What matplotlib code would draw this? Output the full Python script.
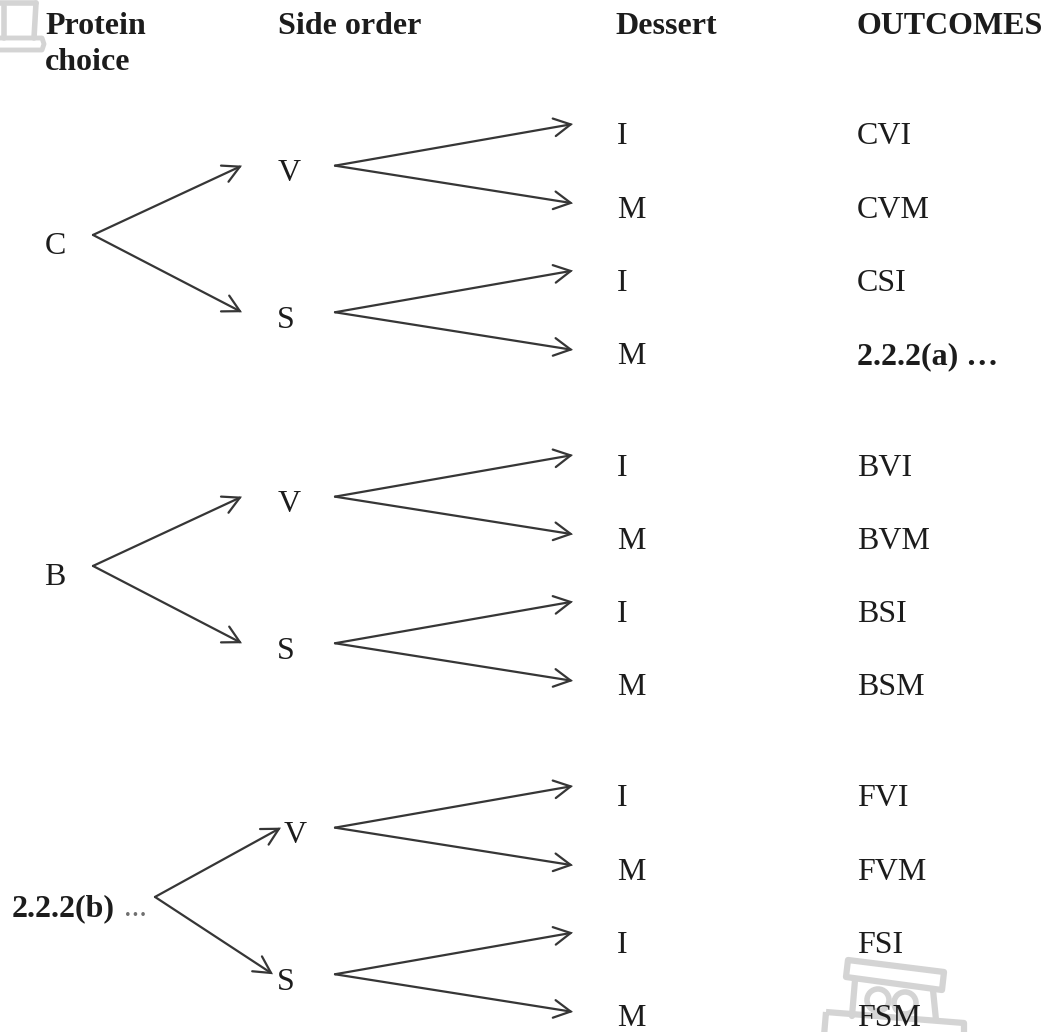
import matplotlib
matplotlib.use("Agg")
import matplotlib.pyplot as plt
from matplotlib.patches import Polygon, Circle

# ---------------- data ----------------
headers = [["Protein", "choice"], ["Side order"], ["Dessert"], ["OUTCOMES"]]
proteins = ["C", "B", "2.2.2(b)"]
protein_suffix = ["", "", "..."]
sides = ["V", "S"]
desserts = ["I", "M"]
outcomes = ["CVI", "CVM", "CSI", "2.2.2(a) \u2026",
            "BVI", "BVM", "BSI", "BSM",
            "FVI", "FVM", "FSI", "FSM"]
bold_outcomes = ["2.2.2(a) \u2026"]

# ---------------- layout ----------------
W, H = 1049, 1032
FONT = "Liberation Serif"
FS = 23
TXT = "#1c1c1c"
ARR = "#363636"

first_leaf = 133.0
leaf_step = 73.3
group_step = 331.0
cap_off = 11.5          # baseline offset below the visual centre of capitals

x_root_label = [45, 44, 12]
x_root_start = [93, 93, 155]
x_side_tip_V = [242, 242, 281]
x_side_tip_S = [242, 242, 273]
x_side_label_V = [278, 278, 284]
x_side_label_S = [277, 277, 277]
x_side_start = 335
x_dess_tip = 573
x_dess_label = 617
x_outcome = 857
header_x = [45, 278, 615, 857]
header_base = 34
header_line = 36

fig = plt.figure(figsize=(W / 100, H / 100), dpi=100)
ax = fig.add_axes([0, 0, 1, 1])
ax.set_xlim(0, W)
ax.set_ylim(H, 0)
ax.axis("off")


def arrow(x0, y0, x1, y1):
    ax.annotate("", xy=(x1, y1), xytext=(x0, y0),
                arrowprops=dict(arrowstyle="->,head_length=0.6,head_width=0.32",
                                lw=1.6, color=ARR, shrinkA=0, shrinkB=0,
                                mutation_scale=20, capstyle="round",
                                joinstyle="miter"), zorder=3)


def label(x, y_center, s, bold=False, **kw):
    ax.text(x, y_center + cap_off, s, fontsize=FS, family=FONT,
            fontweight="bold" if bold else "normal", color=TXT,
            ha="left", va="baseline", zorder=4, **kw)


# ---------------- watermarks (light grey icons) ----------------
wm = "#d4d4d4"
ax.plot([0, 36], [3, 3], color=wm, lw=4, solid_capstyle="round", zorder=1)
ax.plot([36, 34], [3, 38], color=wm, lw=4, solid_capstyle="round", zorder=1)
ax.plot([4, 4], [6, 38], color=wm, lw=4, solid_capstyle="round", zorder=1)
ax.add_patch(Polygon([(-5, 38), (42, 38), (44, 44), (42, 50), (-5, 50)],
                     closed=True, fill=False, ec=wm, lw=3.5, joinstyle="round", zorder=1))
ax.add_patch(Polygon([(848, 960), (944, 972), (942, 990), (846, 977)],
                     closed=True, fill=False, ec=wm, lw=4.5, joinstyle="round", zorder=1))
ax.plot([855, 852], [980, 1016], color=wm, lw=4.5, solid_capstyle="round", zorder=1)
ax.plot([933, 936], [990, 1020], color=wm, lw=4.5, solid_capstyle="round", zorder=1)
ax.add_patch(Circle((878, 1000), 11, fill=False, ec=wm, lw=4, zorder=1))
ax.add_patch(Circle((905, 1003), 11, fill=False, ec=wm, lw=4, zorder=1))
ax.add_patch(Polygon([(826, 1012), (964, 1023), (964, 1045), (824, 1036)],
                     closed=True, fill=False, ec=wm, lw=4.5, joinstyle="round", zorder=1))

# ---------------- headers ----------------
for hx, lines in zip(header_x, headers):
    for j, h in enumerate(lines):
        ax.text(hx, header_base + j * header_line, h, fontsize=FS, family=FONT,
                fontweight="bold", color=TXT, ha="left", va="baseline", zorder=4)

# ---------------- tree ----------------
k = 0
for g, p in enumerate(proteins):
    top = first_leaf + g * group_step
    leaf_y = [top + i * leaf_step for i in range(len(sides) * len(desserts))]
    side_y = [(leaf_y[2 * s] + leaf_y[2 * s + 1]) / 2 for s in range(len(sides))]
    root_y = sum(side_y) / len(side_y)

    # root label
    if protein_suffix[g]:
        ax.text(x_root_label[g], root_y + cap_off, p, fontsize=FS, family=FONT,
                fontweight="bold", color=TXT, ha="left", va="baseline", zorder=4)
        ax.text(x_root_label[g] + 112, root_y + cap_off, protein_suffix[g],
                fontsize=FS * 0.95, family=FONT, color="#707070",
                ha="left", va="baseline", zorder=4)
    else:
        label(x_root_label[g], root_y, p)

    # root -> sides
    tips_x = [x_side_tip_V[g], x_side_tip_S[g]]
    labs_x = [x_side_label_V[g], x_side_label_S[g]]
    for s, side in enumerate(sides):
        arrow(x_root_start[g], root_y - 8, tips_x[s], side_y[s] - 4)
        label(labs_x[s], side_y[s], side)
        # side -> desserts
        for d, des in enumerate(desserts):
            ly = leaf_y[2 * s + d]
            arrow(x_side_start, side_y[s] - 4, x_dess_tip, ly - (9 if d == 0 else 3))
            label(x_dess_label, ly, des)
            out = outcomes[k]
            label(x_outcome, ly, out, bold=out in bold_outcomes)
            k += 1

fig.savefig("out.png", dpi=100, facecolor="white")
